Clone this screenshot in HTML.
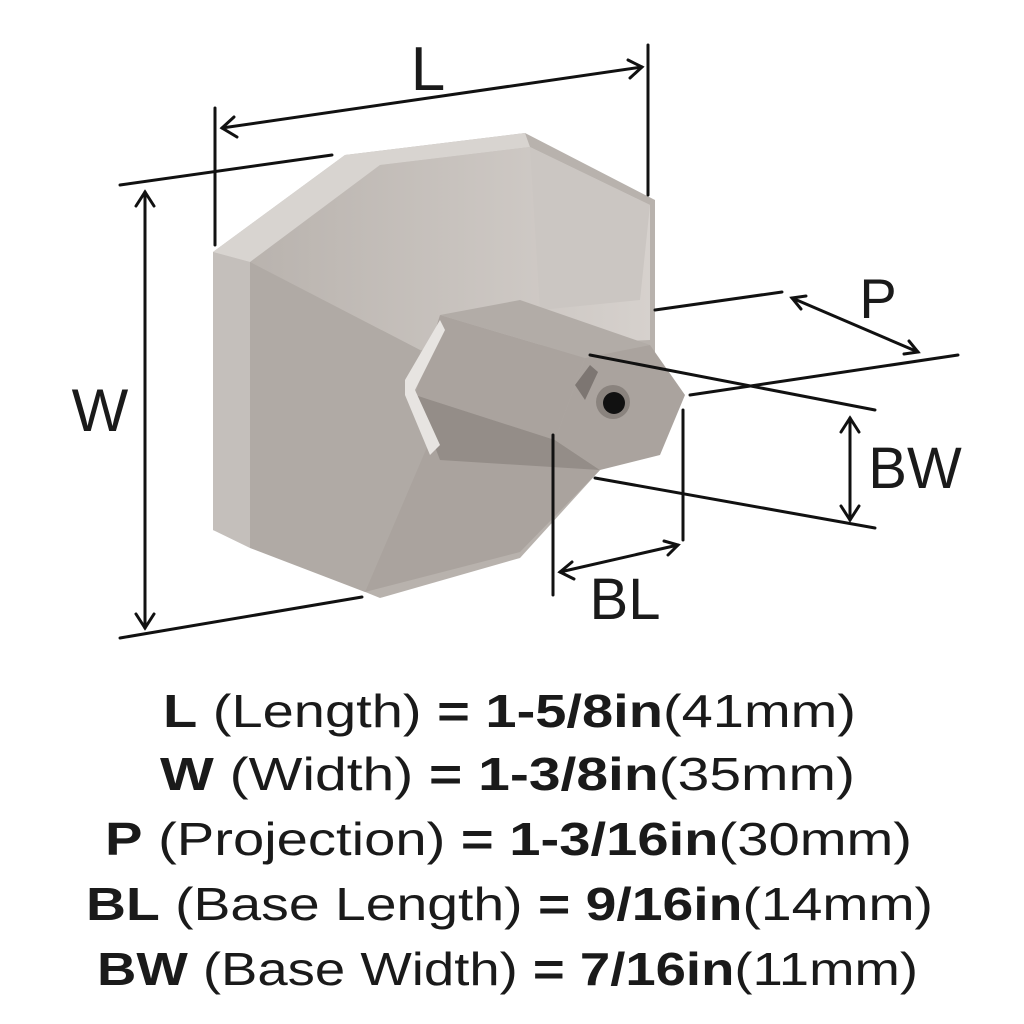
<!DOCTYPE html>
<html><head><meta charset="utf-8"><style>
html,body{margin:0;padding:0;background:#fff;}
svg{display:block}
text{font-family:"Liberation Sans",sans-serif;fill:#1a1a1a}
</style></head><body>
<svg width="1024" height="1024" viewBox="0 0 1024 1024" xmlns="http://www.w3.org/2000/svg">
<defs>
<linearGradient id="g2" x1="0" y1="0" x2="1" y2="0">
<stop offset="0" stop-color="#b9b3ae"/><stop offset="1" stop-color="#d6d1cd"/></linearGradient>
</defs>
<polygon points="213,252 345,155 525,133 655,200 655,400 600,470 520,558 380,598 213,530" fill="#b8b2ad"/>
<polygon points="213,252 250,262 250,548 213,530" fill="#c4bfbb"/>
<polygon points="250,262 380,165 530,147 650,205 650,340 420,350" fill="url(#g2)"/>
<polygon points="250,262 420,350 430,440 365,592 250,548" fill="#b0aaa5"/>
<polygon points="430,440 600,470 520,552 365,592" fill="#aaa39e"/>
<polygon points="530,147 650,205 640,300 540,310" fill="#cbc6c2"/>
<polygon points="345,155 525,133 530,147 380,165 250,262 213,252" fill="#d8d4d0"/>
<polygon points="440,315 520,300 650,345 585,358" fill="#b2aca7"/>
<polygon points="440,315 585,358 555,440 415,395" fill="#aaa39e"/>
<polygon points="415,395 555,440 600,470 440,460" fill="#948d88"/>
<polygon points="585,358 650,345 685,395 660,455 600,470 555,440" fill="#aaa39e"/>
<polygon points="575,385 590,365 598,372 585,400" fill="#7d7672"/>
<circle cx="613" cy="402" r="17" fill="#8a837e"/><circle cx="614" cy="403" r="11" fill="#111"/>
<polygon points="405,380 440,320 445,330 415,390 440,445 430,455 405,395" fill="#e7e4e1"/>
<g stroke="#111" stroke-width="3" fill="none" stroke-linecap="round">
<line x1="215" y1="108" x2="215" y2="245"/><line x1="648" y1="45" x2="648" y2="195"/>
<line x1="222" y1="128" x2="642" y2="67"/>
<polyline points="234,117 222,128 237,137"/><polyline points="628,60 642,67 630,78"/>
<line x1="120" y1="185" x2="332" y2="155"/><line x1="120" y1="638" x2="362" y2="597"/>
<line x1="145" y1="192" x2="145" y2="628"/>
<polyline points="136,206 145,192 154,206"/><polyline points="136,614 145,628 154,614"/>
<line x1="655" y1="310" x2="782" y2="292"/><line x1="690" y1="395" x2="958" y2="355"/>
<line x1="792" y1="298" x2="918" y2="352"/>
<polyline points="801,309 792,298 806,296"/><polyline points="904,354 918,352 909,341"/>
<line x1="590" y1="355" x2="875" y2="410"/><line x1="595" y1="478" x2="875" y2="528"/>
<line x1="850" y1="418" x2="850" y2="520"/>
<polyline points="841,432 850,418 859,432"/><polyline points="841,506 850,520 859,506"/>
<line x1="553" y1="435" x2="553" y2="595"/><line x1="683" y1="410" x2="683" y2="540"/>
<line x1="560" y1="572" x2="678" y2="545"/>
<polyline points="572,562 560,572 574,579"/><polyline points="664,541 678,545 668,555"/>
</g>
<text x="428" y="90" font-size="62" text-anchor="middle">L</text>
<text x="878" y="318" font-size="56" text-anchor="middle">P</text>
<text x="100" y="431" font-size="60" text-anchor="middle">W</text>
<text x="915" y="488" font-size="58" text-anchor="middle">BW</text>
<text x="625" y="619" font-size="58" text-anchor="middle">BL</text>
<g font-size="46">
<text x="163" y="727" textLength="693" lengthAdjust="spacingAndGlyphs"><tspan font-weight="bold">L</tspan> (Length) <tspan font-weight="bold">= 1-5/8in</tspan>(41mm)</text>
<text x="160" y="790" textLength="695" lengthAdjust="spacingAndGlyphs"><tspan font-weight="bold">W</tspan> (Width) <tspan font-weight="bold">= 1-3/8in</tspan>(35mm)</text>
<text x="105" y="855" textLength="807" lengthAdjust="spacingAndGlyphs"><tspan font-weight="bold">P</tspan> (Projection) <tspan font-weight="bold">= 1-3/16in</tspan>(30mm)</text>
<text x="86" y="920" textLength="847" lengthAdjust="spacingAndGlyphs"><tspan font-weight="bold">BL</tspan> (Base Length) <tspan font-weight="bold">= 9/16in</tspan>(14mm)</text>
<text x="97" y="985" textLength="821" lengthAdjust="spacingAndGlyphs"><tspan font-weight="bold">BW</tspan> (Base Width) <tspan font-weight="bold">= 7/16in</tspan>(11mm)</text>
</g>
</svg>
</body></html>
